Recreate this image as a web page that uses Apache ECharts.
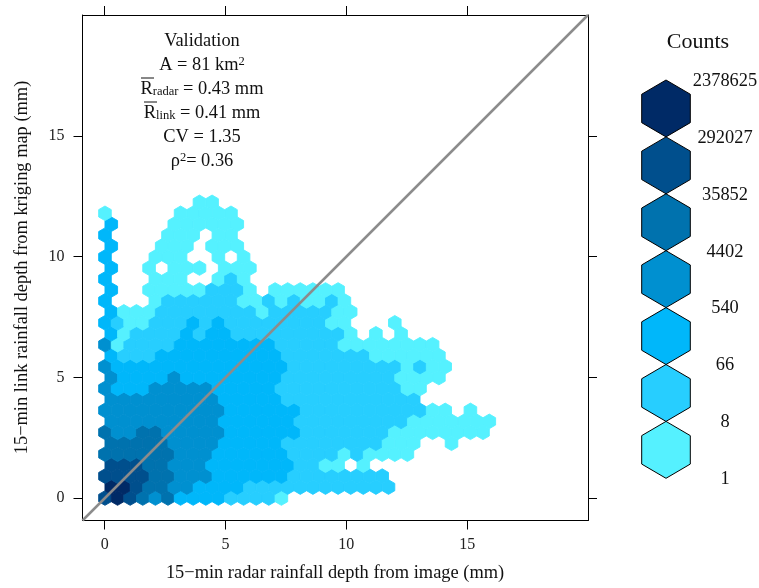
<!DOCTYPE html>
<html><head><meta charset="utf-8">
<style>html,body{margin:0;padding:0;background:#fff}#c{width:759px;height:588px}</style>
<script src="https://cdn.jsdelivr.net/npm/echarts@6/dist/echarts.min.js"></script>
</head><body><div id="c"></div>
<script>
// bin level of each hexagon, bottom row first, one character per column ('.' = empty bin)
const binRows = [
"676545333322221",
"77655443333222222222222",
"66665544433333322222222",
"66655444333333322" + "11.1",
"555555444333333" + "2222" + "1" + "2" + "1111",
"55555444433333" + "22222222" + "111" + ".." + "1",
"5445544444333333" + "2222222" + "11111111",
"444444444333333" + "222222222" + "1111111",
"4444444444333333" + "2222222222" + "11.1",
"44444444433333" + "22222222222",
"433344444333332222222222" + "11",
"43333433333333" + "222222222" + "1111",
"433333333333333" + "222222222" + "1211",
"3222" + "3333333333" + "2222222" + "111111",
"412222" + "33333333" + "22222" + "11111111",
"312222" + "3233" + "222222222" + "1.1.1",
"3211222323" + "22222222" + "11...1",
"3111" + "22222222" + "1" + "22222" + "11",
"3...1222222112121121",
"3..11111222" + "1.111111",
"3...111..121",
"3..1.111.111",
"3...111..1.1",
"3...111.111",
"3....111.11",
"3....111111",
"1.....11111",
".......11"
];
const legendCounts = ["2378625","292027","35852","4402","540","66","8","1"];
const levelColors = ["#55F1FF","#27CEFF","#00B7FA","#0090D0","#0072AE","#004F8D","#002A66"];
const xTicks = [0,5,10,15];
const yTicks = [0,5,10,15];
const identityLine = [[-0.92,-0.92],[20,20]];
const xTitle = "15\u2212min radar rainfall depth from image (mm)";
const yTitle = "15\u2212min link rainfall depth from kriging map (mm)";

const colStep = 0.5215, rowStep = 0.4532, origin = 0.01;
const cells = [];
binRows.forEach((row, r) => {
  [...row].forEach((ch, c) => {
    if (ch === '.') return;
    cells.push([origin + (c + (r % 2 ? 0.5 : 0)) * colStep, origin + r * rowStep, +ch]);
  });
});

const serif = '"Liberation Serif","Times New Roman",serif';
const chart = echarts.init(document.getElementById('c'), null, {renderer:'canvas'});

function axis(ticks, showLabel, margin){
  return {
    type:'value', min:-0.92, max:20, splitLine:{show:false},
    axisLine:{show:true,onZero:false,lineStyle:{color:'#000',width:1}},
    axisTick:{show:true,length:9,customValues:ticks,lineStyle:{color:'#000',width:1}},
    axisLabel:{show:showLabel,customValues:ticks,formatter:v=>String(v),color:'#222',fontFamily:serif,fontSize:16,margin:margin,showMinLabel:true,showMaxLabel:true}
  };
}

const graphics = [];
// legend
const legCx = 666, legTop = 80, legPitch = 56.9, legR = legPitch/2, legW = 24.3;
levelColors.slice().reverse().forEach((col,i)=>{
  const cy = legTop + legR + i*legPitch;
  graphics.push({type:'polygon',shape:{points:[
    [legCx,cy-legR],[legCx+legW,cy-legR/2],[legCx+legW,cy+legR/2],[legCx,cy+legR],[legCx-legW,cy+legR/2],[legCx-legW,cy-legR/2]]},
    style:{fill:col,stroke:'#000',lineWidth:1}});
});
legendCounts.forEach((t,i)=>{
  graphics.push({type:'text',x:725,y:legTop+1+i*legPitch,style:{text:t,fill:'#111',font:'18.4px '+serif,textAlign:'center',textVerticalAlign:'middle'}});
});
graphics.push({type:'text',x:698,y:42,style:{text:'Counts',fill:'#111',font:'22px '+serif,textAlign:'center',textVerticalAlign:'middle'}});

// annotation
const cx = 202, noteFont = 18.4;
const rich = {
  n:{fontFamily:serif,fontSize:noteFont,fill:'#111',color:'#111'},
  sup:{fontFamily:serif,fontSize:12.5,fill:'#111',color:'#111',verticalAlign:'top',padding:[0,0,7,0]},
  sub:{fontFamily:serif,fontSize:12.5,fill:'#111',color:'#111',verticalAlign:'bottom',padding:[6,0,0,0]}
};
const notes = [
  ["{n|Validation}",41],
  ["{n|A = 81 km}{sup|2}",65],
  ["{n|R}{sub|radar}{n| = 0.43 mm}",89],
  ["{n|R}{sub|link}{n| = 0.41 mm}",113],
  ["{n|CV = 1.35}",137],
  ["{n|\u03C1}{sup|2}{n|= 0.36}",161]
];
notes.forEach(([t,y])=>{
  graphics.push({type:'text',x:cx,y:y,style:{text:t,rich:rich,textAlign:'center',textVerticalAlign:'middle',fill:'#111',font:noteFont+'px '+serif}});
});
graphics.push({type:'line',shape:{x1:141,y1:78,x2:154,y2:78},style:{stroke:'#111',lineWidth:1}});
graphics.push({type:'line',shape:{x1:144,y1:102,x2:157,y2:102},style:{stroke:'#111',lineWidth:1}});

chart.setOption({
  animation:false,
  grid:{left:82.5,top:15,width:505.5,height:505.5,show:false},
  xAxis:[Object.assign(axis(xTicks,true,16),{position:'bottom'}),Object.assign(axis(xTicks,false,16),{position:'top'})],
  yAxis:[Object.assign(axis(yTicks,true,18),{position:'left'}),Object.assign(axis(yTicks,false,18),{position:'right'})],
  graphic:{elements:graphics.concat([
    {type:'text',x:335,y:573,style:{text:xTitle,fill:'#111',font:'18.4px '+serif,textAlign:'center',textVerticalAlign:'middle'}},
    {type:'text',x:22,y:267.5,rotation:Math.PI/2,style:{text:yTitle,fill:'#111',font:'18.4px '+serif,textAlign:'center',textVerticalAlign:'middle'}}
  ])},
  series:[
    {type:'custom',coordinateSystem:'cartesian2d',xAxisIndex:0,yAxisIndex:0,data:cells,silent:true,clip:true,
     renderItem(params,api){
       const x=api.value(0),y=api.value(1),lev=api.value(2);
       const hx=colStep/2,hy=rowStep*2/3;
       const pts=[[x,y+hy],[x+hx,y+hy/2],[x+hx,y-hy/2],[x,y-hy],[x-hx,y-hy/2],[x-hx,y+hy/2]].map(p=>api.coord(p));
       const col=levelColors[lev-1];
       return {type:'polygon',shape:{points:pts},style:{fill:col,stroke:col,lineWidth:0.9,lineJoin:'round'}};
     },z:2},
    {type:'line',xAxisIndex:0,yAxisIndex:0,data:identityLine,showSymbol:false,silent:true,lineStyle:{color:'#8c8c8c',width:2.5},z:5}
  ]
});
</script></body></html>
